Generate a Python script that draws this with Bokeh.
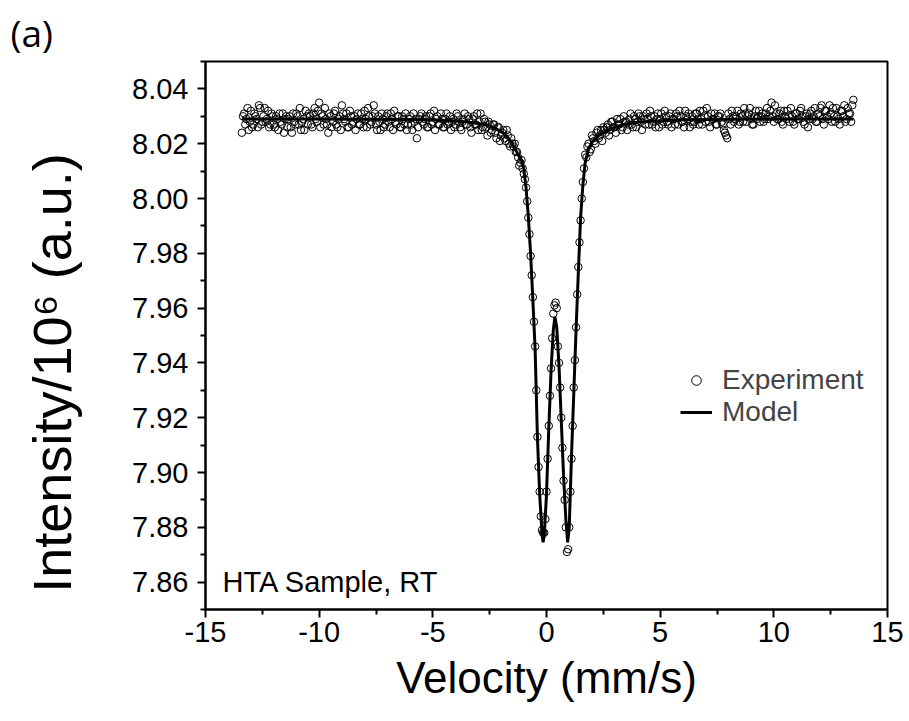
from bokeh.plotting import figure
from bokeh.models import FixedTicker, Label, Legend, LegendItem, Range1d, PrintfTickFormatter, Title
from bokeh.embed import file_html
from bokeh.resources import INLINE

# Measured spectrum (velocity in mm/s, intensity / 1e6), even channels
velocity = [
    -13.4, -13.3, -13.2, -13.1, -13.0, -12.9, -12.8, -12.7, -12.6, -12.5,
    -12.4, -12.3, -12.2, -12.1, -12.0, -11.9, -11.8, -11.7, -11.6, -11.5,
    -11.4, -11.3, -11.2, -11.1, -11.0, -10.9, -10.8, -10.7, -10.6, -10.5,
    -10.4, -10.3, -10.2, -10.1, -10.0, -9.9, -9.8, -9.7, -9.6, -9.5,
    -9.4, -9.3, -9.2, -9.1, -9.0, -8.9, -8.8, -8.7, -8.6, -8.5,
    -8.4, -8.3, -8.2, -8.1, -8.0, -7.9, -7.8, -7.7, -7.6, -7.5,
    -7.4, -7.3, -7.2, -7.1, -7.0, -6.9, -6.8, -6.7, -6.6, -6.5,
    -6.4, -6.3, -6.2, -6.1, -6.0, -5.9, -5.8, -5.7, -5.6, -5.5,
    -5.4, -5.3, -5.2, -5.1, -5.0, -4.9, -4.8, -4.7, -4.6, -4.5,
    -4.4, -4.3, -4.2, -4.1, -4.0, -3.9, -3.8, -3.7, -3.6, -3.5,
    -3.4, -3.3, -3.2, -3.1, -3.0, -2.9, -2.8, -2.7, -2.6, -2.5,
    -2.4, -2.3, -2.2, -2.1, -2.0, -1.9, -1.8, -1.7, -1.6, -1.5,
    -1.4, -1.3, -1.2, -1.1, -1.0, -0.9, -0.8, -0.7, -0.6, -0.5,
    -0.4, -0.3, -0.2, -0.1, 0.0, 0.1, 0.2, 0.3, 0.4, 0.5,
    0.6, 0.7, 0.8, 0.9, 1.0, 1.1, 1.2, 1.3, 1.4, 1.5,
    1.6, 1.7, 1.8, 1.9, 2.0, 2.1, 2.2, 2.3, 2.4, 2.5,
    2.6, 2.7, 2.8, 2.9, 3.0, 3.1, 3.2, 3.3, 3.4, 3.5,
    3.6, 3.7, 3.8, 3.9, 4.0, 4.1, 4.2, 4.3, 4.4, 4.5,
    4.6, 4.7, 4.8, 4.9, 5.0, 5.1, 5.2, 5.3, 5.4, 5.5,
    5.6, 5.7, 5.8, 5.9, 6.0, 6.1, 6.2, 6.3, 6.4, 6.5,
    6.6, 6.7, 6.8, 6.9, 7.0, 7.1, 7.2, 7.3, 7.4, 7.5,
    7.6, 7.7, 7.8, 7.9, 8.0, 8.1, 8.2, 8.3, 8.4, 8.5,
    8.6, 8.7, 8.8, 8.9, 9.0, 9.1, 9.2, 9.3, 9.4, 9.5,
    9.6, 9.7, 9.8, 9.9, 10.0, 10.1, 10.2, 10.3, 10.4, 10.5,
    10.6, 10.7, 10.8, 10.9, 11.0, 11.1, 11.2, 11.3, 11.4, 11.5,
    11.6, 11.7, 11.8, 11.9, 12.0, 12.1, 12.2, 12.3, 12.4, 12.5,
    12.6, 12.7, 12.8, 12.9, 13.0, 13.1, 13.2, 13.3, 13.4, 13.5,
]
intensity = [
    8.024, 8.031, 8.029, 8.025, 8.032, 8.027, 8.030, 8.026, 8.033, 8.028,
    8.033, 8.029, 8.026, 8.031, 8.027, 8.030, 8.025, 8.028, 8.031, 8.029,
    8.026, 8.030, 8.024, 8.028, 8.031, 8.027, 8.025, 8.029, 8.032, 8.027,
    8.030, 8.026, 8.033, 8.028, 8.035, 8.031, 8.027, 8.029, 8.024, 8.030,
    8.028, 8.032, 8.026, 8.030, 8.034, 8.029, 8.031, 8.026, 8.030, 8.028,
    8.025, 8.031, 8.027, 8.029, 8.032, 8.026, 8.030, 8.028, 8.034, 8.027,
    8.030, 8.025, 8.029, 8.027, 8.031, 8.026, 8.029, 8.032, 8.027, 8.030,
    8.026, 8.029, 8.031, 8.027, 8.030, 8.025, 8.028, 8.022, 8.029, 8.031,
    8.027, 8.030, 8.026, 8.031, 8.028, 8.025, 8.030, 8.027, 8.029, 8.026,
    8.031, 8.028, 8.025, 8.029, 8.027, 8.030, 8.026, 8.028, 8.031, 8.027,
    8.029, 8.024, 8.030, 8.027, 8.025, 8.031, 8.026, 8.028, 8.023, 8.027,
    8.025, 8.027, 8.022, 8.026, 8.023, 8.025, 8.021, 8.023, 8.019, 8.020,
    8.020, 8.017, 8.012, 8.014, 8.009, 8.004, 7.993, 7.979, 7.964, 7.946,
    7.913, 7.893, 7.879, 7.878, 7.893, 7.917, 7.938, 7.958, 7.962, 7.946,
    7.931, 7.909, 7.890, 7.871, 7.880, 7.905, 7.931, 7.953, 7.975, 7.992,
    8.006, 8.016, 8.019, 8.017, 8.023, 8.021, 8.024, 8.022, 8.025, 8.026,
    8.024, 8.027, 8.025, 8.028, 8.026, 8.029, 8.027, 8.025, 8.030, 8.028,
    8.027, 8.031, 8.026, 8.029, 8.028, 8.030, 8.025, 8.029, 8.031, 8.027,
    8.030, 8.028, 8.026, 8.031, 8.029, 8.027, 8.032, 8.028, 8.030, 8.026,
    8.029, 8.031, 8.027, 8.030, 8.028, 8.032, 8.029, 8.026, 8.030, 8.028,
    8.031, 8.027, 8.029, 8.032, 8.028, 8.030, 8.026, 8.029, 8.031, 8.027,
    8.030, 8.028, 8.025, 8.023, 8.031, 8.027, 8.030, 8.029, 8.032, 8.028,
    8.030, 8.033, 8.028, 8.031, 8.029, 8.027, 8.032, 8.030, 8.028, 8.031,
    8.029, 8.033, 8.030, 8.035, 8.028, 8.031, 8.029, 8.032, 8.027, 8.030,
    8.032, 8.028, 8.030, 8.027, 8.031, 8.029, 8.033, 8.028, 8.030, 8.026,
    8.031, 8.029, 8.033, 8.028, 8.030, 8.034, 8.027, 8.032, 8.029, 8.031,
    8.033, 8.028, 8.030, 8.027, 8.032, 8.034, 8.029, 8.031, 8.028, 8.036,
]

# Measured spectrum, odd channels (half-way between the even channels)
velocity_odd = [
    -13.35, -13.25, -13.15, -13.05, -12.95, -12.85, -12.75, -12.65, -12.55, -12.45,
    -12.35, -12.25, -12.15, -12.05, -11.95, -11.85, -11.75, -11.65, -11.55, -11.45,
    -11.35, -11.25, -11.15, -11.05, -10.95, -10.85, -10.75, -10.65, -10.55, -10.45,
    -10.35, -10.25, -10.15, -10.05, -9.95, -9.85, -9.75, -9.65, -9.55, -9.45,
    -9.35, -9.25, -9.15, -9.05, -8.95, -8.85, -8.75, -8.65, -8.55, -8.45,
    -8.35, -8.25, -8.15, -8.05, -7.95, -7.85, -7.75, -7.65, -7.55, -7.45,
    -7.35, -7.25, -7.15, -7.05, -6.95, -6.85, -6.75, -6.65, -6.55, -6.45,
    -6.35, -6.25, -6.15, -6.05, -5.95, -5.85, -5.75, -5.65, -5.55, -5.45,
    -5.35, -5.25, -5.15, -5.05, -4.95, -4.85, -4.75, -4.65, -4.55, -4.45,
    -4.35, -4.25, -4.15, -4.05, -3.95, -3.85, -3.75, -3.65, -3.55, -3.45,
    -3.35, -3.25, -3.15, -3.05, -2.95, -2.85, -2.75, -2.65, -2.55, -2.45,
    -2.35, -2.25, -2.15, -2.05, -1.95, -1.85, -1.75, -1.65, -1.55, -1.45,
    -1.35, -1.25, -1.15, -1.05, -0.95, -0.85, -0.75, -0.65, -0.55, -0.45,
    -0.35, -0.25, -0.15, -0.05, 0.05, 0.15, 0.25, 0.35, 0.45, 0.55,
    0.65, 0.75, 0.85, 0.95, 1.05, 1.15, 1.25, 1.35, 1.45, 1.55,
    1.65, 1.75, 1.85, 1.95, 2.05, 2.15, 2.25, 2.35, 2.45, 2.55,
    2.65, 2.75, 2.85, 2.95, 3.05, 3.15, 3.25, 3.35, 3.45, 3.55,
    3.65, 3.75, 3.85, 3.95, 4.05, 4.15, 4.25, 4.35, 4.45, 4.55,
    4.65, 4.75, 4.85, 4.95, 5.05, 5.15, 5.25, 5.35, 5.45, 5.55,
    5.65, 5.75, 5.85, 5.95, 6.05, 6.15, 6.25, 6.35, 6.45, 6.55,
    6.65, 6.75, 6.85, 6.95, 7.05, 7.15, 7.25, 7.35, 7.45, 7.55,
    7.65, 7.75, 7.85, 7.95, 8.05, 8.15, 8.25, 8.35, 8.45, 8.55,
    8.65, 8.75, 8.85, 8.95, 9.05, 9.15, 9.25, 9.35, 9.45, 9.55,
    9.65, 9.75, 9.85, 9.95, 10.05, 10.15, 10.25, 10.35, 10.45, 10.55,
    10.65, 10.75, 10.85, 10.95, 11.05, 11.15, 11.25, 11.35, 11.45, 11.55,
    11.65, 11.75, 11.85, 11.95, 12.05, 12.15, 12.25, 12.35, 12.45, 12.55,
    12.65, 12.75, 12.85, 12.95, 13.05, 13.15, 13.25, 13.35, 13.45,
]
intensity_odd = [
    8.030, 8.027, 8.033, 8.028, 8.026, 8.031, 8.029, 8.034, 8.027, 8.030,
    8.028, 8.032, 8.027, 8.030, 8.026, 8.029, 8.031, 8.027, 8.024, 8.030,
    8.029, 8.026, 8.031, 8.027, 8.030, 8.033, 8.028, 8.025, 8.030, 8.031,
    8.027, 8.031, 8.029, 8.032, 8.026, 8.030, 8.033, 8.027, 8.031, 8.026,
    8.031, 8.027, 8.029, 8.025, 8.031, 8.028, 8.026, 8.032, 8.027, 8.030,
    8.029, 8.027, 8.031, 8.026, 8.029, 8.033, 8.027, 8.030, 8.031, 8.025,
    8.028, 8.031, 8.026, 8.030, 8.028, 8.031, 8.025, 8.028, 8.030, 8.026,
    8.030, 8.027, 8.025, 8.029, 8.027, 8.031, 8.029, 8.026, 8.030, 8.028,
    8.029, 8.026, 8.030, 8.027, 8.032, 8.029, 8.027, 8.031, 8.026, 8.029,
    8.027, 8.030, 8.028, 8.026, 8.031, 8.028, 8.025, 8.029, 8.027, 8.030,
    8.026, 8.029, 8.027, 8.031, 8.028, 8.025, 8.029, 8.026, 8.028, 8.024,
    8.027, 8.024, 8.026, 8.021, 8.024, 8.022, 8.025, 8.020, 8.022, 8.019,
    8.017, 8.015, 8.013, 8.011, 8.007, 7.999, 7.987, 7.972, 7.955, 7.930,
    7.902, 7.884, 7.878, 7.883, 7.905, 7.928, 7.949, 7.961, 7.960, 7.940,
    7.920, 7.897, 7.880, 7.872, 7.893, 7.917, 7.941, 7.965, 7.984, 8.000,
    8.011, 8.015, 8.020, 8.018, 8.022, 8.020, 8.025, 8.023, 8.021, 8.025,
    8.026, 8.023, 8.028, 8.026, 8.024, 8.027, 8.029, 8.026, 8.028, 8.025,
    8.029, 8.027, 8.030, 8.026, 8.031, 8.028, 8.030, 8.027, 8.029, 8.032,
    8.027, 8.030, 8.029, 8.026, 8.031, 8.028, 8.030, 8.027, 8.031, 8.029,
    8.027, 8.030, 8.032, 8.028, 8.026, 8.030, 8.031, 8.028, 8.027, 8.031,
    8.029, 8.032, 8.027, 8.030, 8.033, 8.028, 8.031, 8.029, 8.027, 8.030,
    8.031, 8.027, 8.024, 8.022, 8.029, 8.032, 8.028, 8.030, 8.027, 8.031,
    8.028, 8.031, 8.030, 8.033, 8.027, 8.030, 8.029, 8.032, 8.030, 8.028,
    8.031, 8.029, 8.032, 8.030, 8.034, 8.029, 8.031, 8.028, 8.032, 8.029,
    8.030, 8.033, 8.028, 8.031, 8.029, 8.032, 8.030, 8.027, 8.031, 8.029,
    8.032, 8.030, 8.028, 8.031, 8.033, 8.029, 8.032, 8.030, 8.034, 8.028,
    8.030, 8.033, 8.029, 8.032, 8.030, 8.028, 8.033, 8.031, 8.034,
]

# Fitted model curve
model_velocity = [
    -13.4, -10.0, -8.0, -6.0, -5.0, -4.0, -3.5, -3.0, -2.5, -2.0,
    -1.75, -1.5, -1.25, -1.1, -1.0, -0.9, -0.8, -0.7, -0.6, -0.5,
    -0.4, -0.3, -0.2, -0.15, -0.1, 0.0, 0.1, 0.2, 0.3, 0.37,
    0.45, 0.55, 0.65, 0.75, 0.85, 0.93, 1.0, 1.1, 1.2, 1.3,
    1.4, 1.5, 1.6, 1.7, 1.85, 2.0, 2.3, 2.6, 3.0, 3.5,
    4.0, 5.0, 6.0, 7.0, 10.0, 13.5,
]
model_intensity = [
    8.0290, 8.0290, 8.0289, 8.0288, 8.0287, 8.0283, 8.0279, 8.0274, 8.0265, 8.0245,
    8.0228, 8.0200, 8.0160, 8.0140, 8.0110, 8.0040, 7.9935, 7.9800, 7.9630, 7.9450,
    7.9130, 7.8920, 7.8780, 7.8745, 7.8770, 7.8920, 7.9160, 7.9370, 7.9520, 7.9568,
    7.9530, 7.9390, 7.9190, 7.8990, 7.8830, 7.8745, 7.8800, 7.9060, 7.9290, 7.9520,
    7.9730, 7.9930, 8.0050, 8.0130, 8.0180, 8.0205, 8.0230, 8.0245, 8.0260, 8.0272,
    8.0278, 8.0284, 8.0287, 8.0288, 8.0290, 8.0290,
]

x_ticks = [-15, -10, -5, 0, 5, 10, 15]
x_minor = [-12.5, -7.5, -2.5, 2.5, 7.5, 12.5]
y_ticks = [7.86, 7.88, 7.90, 7.92, 7.94, 7.96, 7.98, 8.00, 8.02, 8.04]
y_minor = [7.85, 7.87, 7.89, 7.91, 7.93, 7.95, 7.97, 7.99, 8.01, 8.03, 8.05]

FONT = "Liberation Sans"
NB = "\u00a0"

p = figure(
    frame_width=682, frame_height=548,
    min_border_left=205, min_border_right=22, min_border_top=61, min_border_bottom=112,
    x_range=Range1d(-15, 15), y_range=Range1d(7.85, 8.05),
    output_backend="svg", toolbar_location=None,
)
p.title = Title(text="(a)", align="left", offset=-195, standoff=8,
                text_font="Open Sans", text_font_size="37px",
                text_font_style="normal", text_color="black")
p.xgrid.visible = False
p.ygrid.visible = False
p.outline_line_color = "black"
p.outline_line_width = 2
p.background_fill_color = "white"
p.border_fill_color = "white"

exp = p.scatter(velocity + velocity_odd, intensity + intensity_odd, marker="circle",
                size=7.5, fill_color=None, line_color="black", line_width=1)
mod = p.line(model_velocity, model_intensity, line_color="black", line_width=3)

for ax in (p.xaxis[0], p.yaxis[0]):
    ax.axis_line_width = 2
    ax.major_tick_line_width = 2
    ax.minor_tick_line_width = 2
    ax.major_tick_in = 0
    ax.major_tick_out = 8
    ax.minor_tick_in = 0
    ax.minor_tick_out = 5
    ax.major_label_text_font = FONT
    ax.major_label_text_font_size = "29px"
    ax.major_label_text_color = "black"
    ax.axis_label_text_font = FONT
    ax.axis_label_text_font_style = "normal"
    ax.axis_label_text_color = "black"

p.xaxis[0].ticker = FixedTicker(ticks=x_ticks, minor_ticks=x_minor)
p.yaxis[0].ticker = FixedTicker(ticks=y_ticks, minor_ticks=y_minor)
p.xaxis[0].formatter = PrintfTickFormatter(format="%d")
p.yaxis[0].formatter = PrintfTickFormatter(format="%.2f")
p.xaxis[0].axis_label = "Velocity (mm/s)"
p.yaxis[0].axis_label = "Intensity/10\u2076 (a.u.)" + NB * 5
p.xaxis[0].axis_label_text_font_size = "44px"
p.yaxis[0].axis_label_text_font_size = "54px"
p.xaxis[0].major_label_standoff = 4
p.yaxis[0].major_label_standoff = 9
p.xaxis[0].axis_label_standoff = 8
p.yaxis[0].axis_label_standoff = 47

legend = Legend(
    items=[LegendItem(label="Experiment", renderers=[exp]),
           LegendItem(label="Model", renderers=[mod])],
    location=(475, 181),
    background_fill_alpha=0, border_line_alpha=0,
    padding=0, margin=0, spacing=0,
    glyph_width=32, glyph_height=24, label_height=24, label_standoff=10,
    label_text_font=FONT, label_text_font_size="28px",
)
p.add_layout(legend)

p.add_layout(Label(x=-14.25, y=7.8601, text="HTA Sample, RT",
                   text_font=FONT, text_font_size="29px", text_color="black",
                   text_baseline="middle"))

open("out.html", "w").write(file_html(p, INLINE))
